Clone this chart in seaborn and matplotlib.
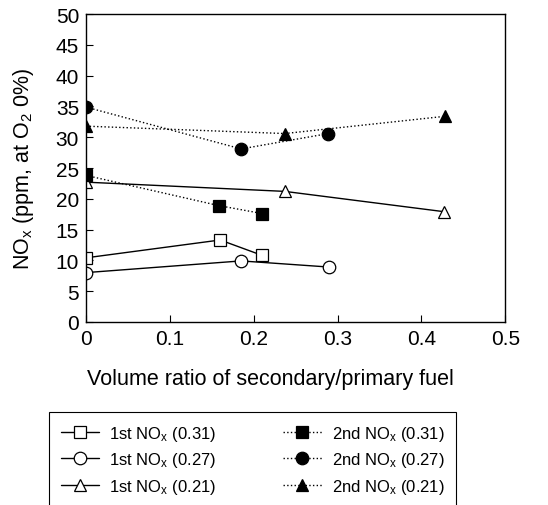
import matplotlib
matplotlib.use("Agg")
import matplotlib.pyplot as plt
import seaborn as sns
import pandas as pd

sns.set_theme(style="white")
plt.rcParams['font.family'] = ['Liberation Sans', 'DejaVu Sans']
plt.rcParams['mathtext.fontset'] = 'custom'
plt.rcParams['mathtext.rm'] = 'Liberation Sans'
plt.rcParams['mathtext.it'] = 'Liberation Sans'
plt.rcParams['text.color'] = 'black'
plt.rcParams['axes.labelcolor'] = 'black'

labels = ["1st NO$_x$ (0.31)", "1st NO$_x$ (0.27)", "1st NO$_x$ (0.21)",
          "2nd NO$_x$ (0.31)", "2nd NO$_x$ (0.27)", "2nd NO$_x$ (0.21)"]
x_1st_031 = [0.0, 0.16, 0.21]
y_1st_031 = [10.4, 13.3, 10.8]
x_1st_027 = [0.0, 0.185, 0.29]
y_1st_027 = [8.0, 9.9, 8.9]
x_1st_021 = [0.0, 0.237, 0.427]
y_1st_021 = [22.7, 21.2, 17.9]
x_2nd_031 = [0.0, 0.158, 0.21]
y_2nd_031 = [23.8, 18.9, 17.6]
x_2nd_027 = [0.0, 0.185, 0.289]
y_2nd_027 = [34.9, 28.1, 30.6]
x_2nd_021 = [0.0, 0.237, 0.428]
y_2nd_021 = [31.8, 30.6, 33.4]

xs = [x_1st_031, x_1st_027, x_1st_021, x_2nd_031, x_2nd_027, x_2nd_021]
ys = [y_1st_031, y_1st_027, y_1st_021, y_2nd_031, y_2nd_027, y_2nd_021]
markers = ["s", "o", "^", "s", "o", "^"]
fills = ["white", "white", "white", "black", "black", "black"]
styles = ["-", "-", "-", ":", ":", ":"]

fig = plt.figure(figsize=(5.48, 5.06), dpi=100)
ax = fig.add_axes([0.157, 0.362, 0.765, 0.608])

handles = []
for xv, yv, lab, m, fc, ls in zip(xs, ys, labels, markers, fills, styles):
    df = pd.DataFrame({"x": xv, "y": yv})
    sns.lineplot(data=df, x="x", y="y", ax=ax, color="black", linewidth=1.0,
                 linestyle=ls, marker=m, markersize=9,
                 markerfacecolor=fc, markeredgecolor="black", markeredgewidth=0.9,
                 label=lab, legend=False, sort=False)
    handles.append(ax.lines[-1])

ax.set_xlim(0, 0.5)
ax.set_ylim(0, 50)
ax.set_xticks([0, 0.1, 0.2, 0.3, 0.4, 0.5])
ax.set_xticklabels(["0", "0.1", "0.2", "0.3", "0.4", "0.5"])
ax.set_yticks(range(0, 51, 5))
ax.tick_params(axis="both", direction="in", length=5, width=0.8, colors="black",
               labelsize=15, bottom=True, left=True, top=False, right=False, pad=5)
for s in ax.spines.values():
    s.set_color("black")
    s.set_linewidth(1.0)
ax.set_xlabel("Volume ratio of secondary/primary fuel", fontsize=15.5, va="center")
ax.xaxis.set_label_coords(0.44, -0.185)
ax.set_ylabel("NO$_x$ (ppm, at O$_2$ 0%)", fontsize=15.5, va="center")
ax.yaxis.set_label_coords(-0.148, 0.5)

leg = fig.legend(handles, labels, loc="upper left", bbox_to_anchor=(0.09, 0.184),
                 ncol=2, frameon=True, fancybox=False, fontsize=12,
                 handlelength=2.3, handletextpad=0.6, borderaxespad=0, borderpad=0.7,
                 labelspacing=0.45, columnspacing=4.0, framealpha=1.0)
leg.get_frame().set_edgecolor("black")
leg.get_frame().set_linewidth(0.8)

fig.savefig("out.png", dpi=100)
